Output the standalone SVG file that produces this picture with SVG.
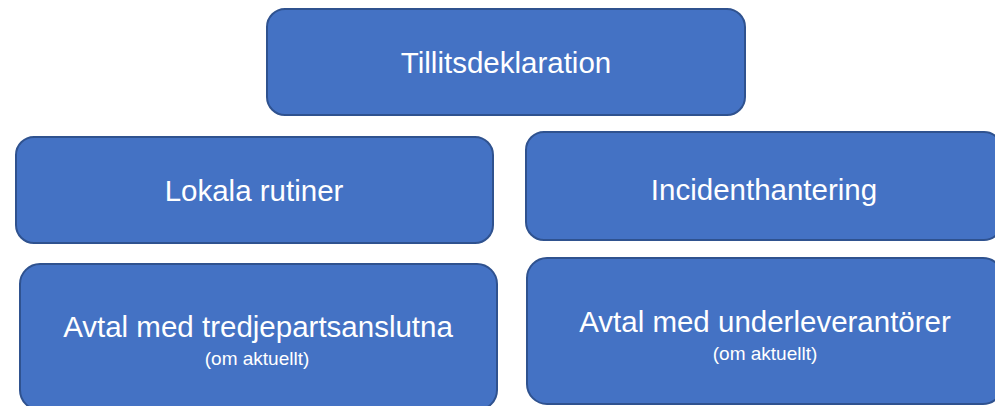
<svg xmlns="http://www.w3.org/2000/svg" width="995" height="406" viewBox="0 0 995 406">
<style>
.box{fill:#4472C4;stroke:#2F528F;stroke-width:2}
.t{font-family:"Liberation Sans",Arial,sans-serif;fill:#FFFFFF;text-anchor:middle}
.main{font-size:29.5px}
.sub{font-size:19px}
</style>
<rect width="995" height="406" fill="#FFFFFF"/>
<g id="connectors"></g>
<g id="tillit">
<rect class="box" x="267" y="9" width="478" height="106" rx="18"/>
<text class="t main" x="506" y="73">Tillitsdeklaration</text>
</g>
<g id="lokala">
<rect class="box" x="16" y="137" width="477" height="106" rx="18"/>
<text class="t main" x="254" y="201">Lokala rutiner</text>
</g>
<g id="incident">
<rect class="box" x="526" y="132" width="476" height="108" rx="18"/>
<text class="t main" x="764" y="200">Incidenthantering</text>
</g>
<g id="tredje">
<rect class="box" x="20" y="264" width="477" height="146" rx="20"/>
<text class="t main" x="258" y="337">Avtal med tredjepartsanslutna</text>
<text class="t sub" x="257" y="365">(om aktuellt)</text>
</g>
<g id="under">
<rect class="box" x="527" y="258" width="476" height="146" rx="20"/>
<text class="t main" x="765" y="332">Avtal med underleverantörer</text>
<text class="t sub" x="765" y="360">(om aktuellt)</text>
</g>
</svg>
